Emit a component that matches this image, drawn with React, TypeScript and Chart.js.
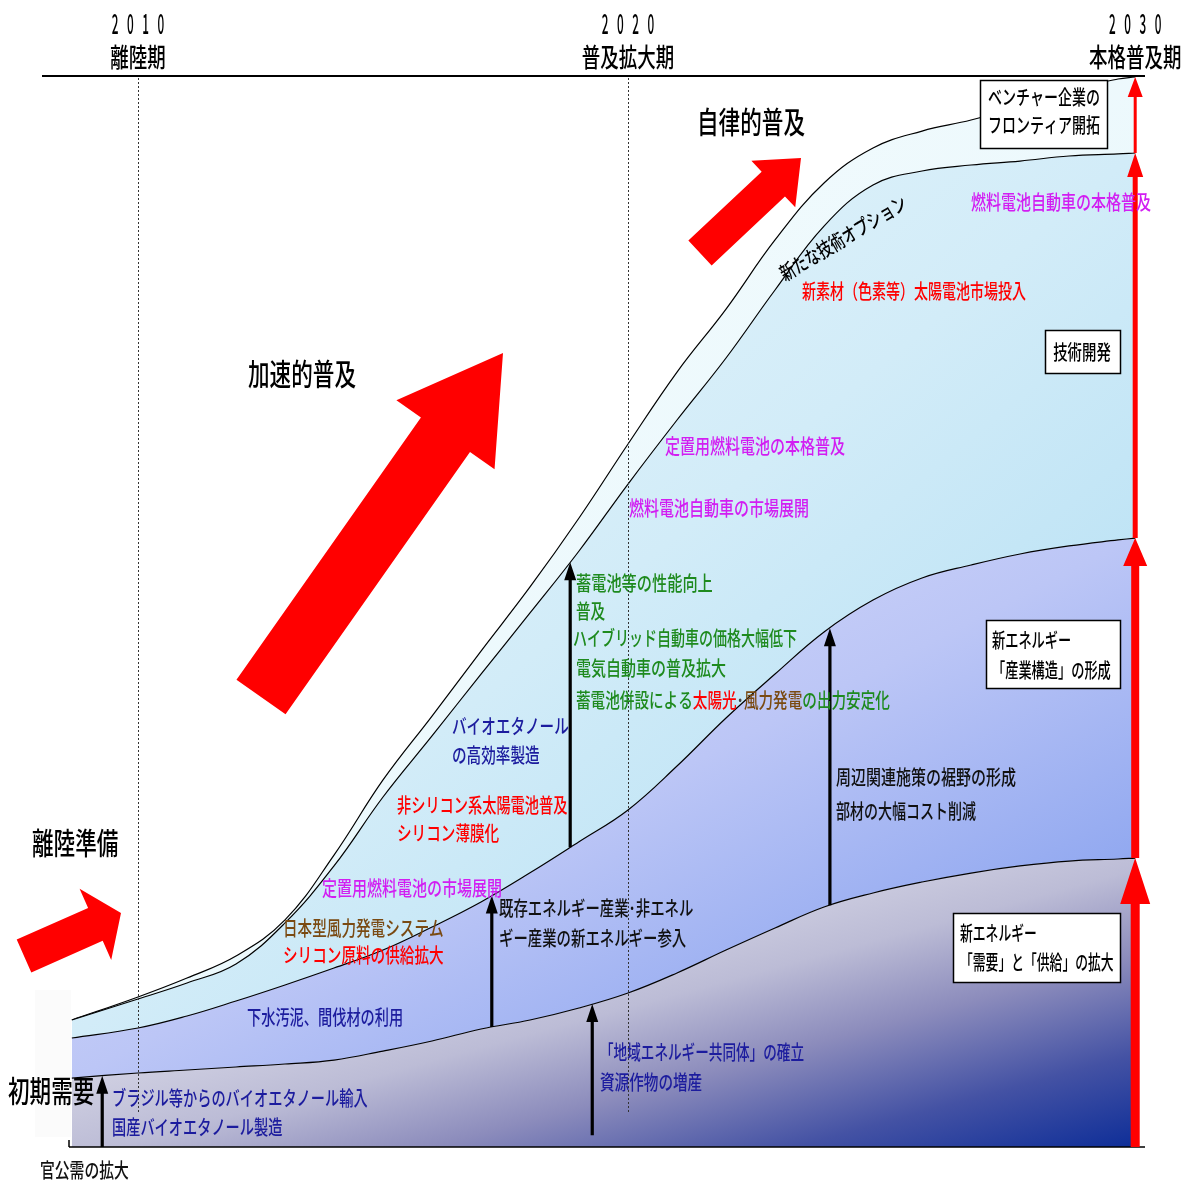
import React, { useEffect, useRef } from "react";
import { Chart, registerables } from "chart.js";

Chart.register(...registerables);

// ---------- DATA ----------
const years = [2008.65, 2010, 2011, 2012, 2013, 2014, 2015, 2016, 2017, 2018, 2019, 2020, 2021, 2022, 2023, 2024, 2025, 2026, 2027, 2028, 2029, 2030, 2030.35];

// 新エネルギー「需要」と「供給」の拡大 (bottom band top)
const demandSupply = [6.44, 6.91, 7.19, 7.47, 7.75, 8.12, 8.96, 9.9, 11.02, 11.86, 12.98, 14.38, 16.25, 18.39, 20.45, 22.41, 23.72, 24.74, 25.58, 26.24, 26.7, 26.89, 26.98];
// 新エネルギー「産業構造」の形成 (middle band top)
const industryStructure = [10.18, 11.11, 12.23, 13.63, 15.13, 16.71, 18.39, 20.54, 22.88, 25.6, 28.5, 31.47, 35.57, 40.06, 44.16, 48.09, 51.07, 53.13, 54.34, 55.37, 56.12, 56.68, 56.86];
// 技術開発 (light band top)
const techDevelopment = [11.86, 13.82, 15.31, 17.09, 20.92, 26.24, 32.68, 38.38, 44.16, 49.86, 55.65, 61.9, 67.88, 73.67, 80.02, 85.99, 89.82, 91.13, 91.69, 92.06, 92.53, 92.72, 92.81];
// ベンチャー企業のフロンティア開拓 / 新たな技術オプション (outer top)
const ventureFrontier = [11.86, 14.01, 15.78, 17.83, 21.2, 27.26, 34.27, 40.24, 46.31, 52.29, 58.73, 65.64, 72.36, 78.24, 84.69, 90.01, 93.28, 94.86, 95.89, 97.2, 98.69, 99.72, 99.91];

const tickYears = [2010, 2020, 2030];
const phaseLabels = ["離陸期", "普及拡大期", "本格普及期"];

// ---------- STYLE / LAYOUT ----------
const FONT = '"Noto Sans CJK JP", "Noto Sans CJK SC", sans-serif';
const NAVY = "#1c1c9e";
const RED = "#ff0000";
const GREEN = "#1e8a1e";
const BROWN = "#7a4a12";
const MAGENTA = "#d21ef2";
const BLACK = "#111111";

const notes: { t: string; x: number; y: number; c: string; sx?: number }[] = [
  { t: "ブラジル等からのバイオエタノール輸入", x: 112, y: 1098, c: NAVY, sx: 0.71 },
  { t: "国産バイオエタノール製造", x: 112, y: 1127, c: NAVY, sx: 0.71 },
  { t: "下水汚泥、間伐材の利用", x: 247, y: 1017, c: NAVY, sx: 0.71 },
  { t: "「地域エネルギー共同体」の確立", x: 600, y: 1052, c: NAVY, sx: 0.68 },
  { t: "資源作物の増産", x: 600, y: 1082, c: NAVY },
  { t: "バイオエタノール", x: 452, y: 726, c: NAVY },
  { t: "の高効率製造", x: 452, y: 755, c: NAVY },
  { t: "非シリコン系太陽電池普及", x: 397, y: 805, c: RED, sx: 0.71 },
  { t: "シリコン薄膜化", x: 397, y: 833, c: RED },
  { t: "定置用燃料電池の市場展開", x: 322, y: 888, c: MAGENTA, sx: 0.75 },
  { t: "日本型風力発電システム", x: 283, y: 928, c: BROWN, sx: 0.73 },
  { t: "シリコン原料の供給拡大", x: 283, y: 955, c: RED, sx: 0.73 },
  { t: "既存エネルギー産業･非エネル", x: 499, y: 908, c: BLACK, sx: 0.72 },
  { t: "ギー産業の新エネルギー参入", x: 499, y: 938, c: BLACK, sx: 0.72 },
  { t: "蓄電池等の性能向上", x: 576, y: 583, c: GREEN, sx: 0.76 },
  { t: "普及", x: 576, y: 611, c: GREEN },
  { t: "ハイブリッド自動車の価格大幅低下", x: 573, y: 638, c: GREEN, sx: 0.7 },
  { t: "電気自動車の普及拡大", x: 576, y: 668, c: GREEN, sx: 0.75 },
  { t: "周辺関連施策の裾野の形成", x: 836, y: 777, c: BLACK, sx: 0.75 },
  { t: "部材の大幅コスト削減", x: 836, y: 811, c: BLACK, sx: 0.7 },
  { t: "定置用燃料電池の本格普及", x: 665, y: 446, c: MAGENTA, sx: 0.75 },
  { t: "燃料電池自動車の市場展開", x: 629, y: 508, c: MAGENTA, sx: 0.75 },
  { t: "新素材（色素等）太陽電池市場投入", x: 802, y: 291, c: RED, sx: 0.7 },
  { t: "燃料電池自動車の本格普及", x: 971, y: 202, c: MAGENTA, sx: 0.75 },
  { t: "官公需の拡大", x: 40, y: 1170, c: BLACK, sx: 0.74 },
];

const mixedLine = [
  { t: "蓄電池併設による", c: GREEN },
  { t: "太陽光", c: RED },
  { t: "･", c: "#444" },
  { t: "風力発電", c: BROWN },
  { t: "の出力安定化", c: GREEN },
];

const bigLabels = [
  { t: "加速的普及", x: 248, y: 374 },
  { t: "自律的普及", x: 697, y: 122 },
  { t: "離陸準備", x: 32, y: 843 },
  { t: "初期需要", x: 8, y: 1091 },
];

const boxes = [
  { x: 980, y: 80, w: 127, h: 68, lines: ["ベンチャー企業の", "フロンティア開拓"], tx: 988, ty: [97, 125], center: false, sx: 0.7 },
  { x: 1045, y: 330, w: 75, h: 43, lines: ["技術開発"], tx: 1082, ty: [352], center: true, sx: 0.72 },
  { x: 986, y: 620, w: 134, h: 68, lines: ["新エネルギー", "「産業構造」の形成"], tx: 992, ty: [640, 670], center: false, sx: 0.66 },
  { x: 953, y: 913, w: 167, h: 69, lines: ["新エネルギー", "「需要」と「供給」の拡大"], tx: 960, ty: [933, 962], center: false, sx: 0.64 },
];

// black vertical arrows: year, from (curve or value), to curve
const blackArrows: { yr: number; from: number[] | number; to: number[] }[] = [
  { yr: 2009.27, from: 0, to: demandSupply },
  { yr: 2017.22, from: demandSupply, to: industryStructure },
  { yr: 2018.82, from: industryStructure, to: techDevelopment },
  { yr: 2019.27, from: 1.1, to: demandSupply },
  { yr: 2024.12, from: demandSupply, to: industryStructure },
];

// ---------- HELPERS ----------
function interp(arr: number[], yr: number) {
  for (let i = 0; i < years.length - 1; i++) {
    if (yr >= years[i] && yr <= years[i + 1]) {
      const f = (yr - years[i]) / (years[i + 1] - years[i]);
      return arr[i] + f * (arr[i + 1] - arr[i]);
    }
  }
  return arr[arr.length - 1];
}

function bandFill(upper: number[], lower: number[] | null, stops: [number, string][]) {
  return (c: any) => {
    const chart = c.chart;
    const { chartArea, scales } = chart;
    if (!chartArea || !scales || !scales.x || !scales.y) return stops[0][1];
    const xL = scales.x.getPixelForValue(years[0]);
    const xR = scales.x.getPixelForValue(years[years.length - 1]);
    const yT = scales.y.getPixelForValue(Math.max(...upper));
    const yB = scales.y.getPixelForValue(lower ? Math.min(...lower) : 0);
    const W = xR - xL;
    const H = yB - yT;
    const f = (2 * W * H) / (W * W + H * H);
    const g = chart.ctx.createLinearGradient(xL, yT, xL + H * f, yT + W * f);
    stops.forEach(([o, col]) => g.addColorStop(o, col));
    return g;
  };
}

function drawText(ctx: CanvasRenderingContext2D, s: string, x: number, y: number, size: number, color: string, sx = 0.72, center = false) {
  ctx.save();
  ctx.font = `500 ${size}px ${FONT}`;
  ctx.fillStyle = color;
  ctx.textBaseline = "middle";
  ctx.textAlign = "left";
  const w = ctx.measureText(s).width * sx;
  ctx.translate(center ? x - w / 2 : x, y);
  ctx.scale(sx, 1);
  ctx.fillText(s, 0, 0);
  ctx.restore();
  return w;
}

function blockArrow(ctx: CanvasRenderingContext2D, tx: number, ty: number, hx: number, hy: number, shaftW: number, headW: number, headL: number, color: string) {
  const dx = hx - tx, dy = hy - ty;
  const L = Math.hypot(dx, dy);
  const ux = dx / L, uy = dy / L;
  const px = -uy, py = ux;
  const bx = hx - ux * headL, by = hy - uy * headL;
  const pts = [
    [tx + (px * shaftW) / 2, ty + (py * shaftW) / 2],
    [bx + (px * shaftW) / 2, by + (py * shaftW) / 2],
    [bx + (px * headW) / 2, by + (py * headW) / 2],
    [hx, hy],
    [bx - (px * headW) / 2, by - (py * headW) / 2],
    [bx - (px * shaftW) / 2, by - (py * shaftW) / 2],
    [tx - (px * shaftW) / 2, ty - (py * shaftW) / 2],
  ];
  ctx.save();
  ctx.fillStyle = color;
  ctx.beginPath();
  pts.forEach(([a, b], i) => (i ? ctx.lineTo(a, b) : ctx.moveTo(a, b)));
  ctx.closePath();
  ctx.fill();
  ctx.restore();
}

const annotate = {
  id: "annotate",
  afterDatasetsDraw(chart: any) {
    const ctx: CanvasRenderingContext2D = chart.ctx;
    const xs = chart.scales.x;
    const ys = chart.scales.y;
    const ca = chart.chartArea;
    const lastX = xs.getPixelForValue(years[years.length - 1]);

    // frame lines
    ctx.save();
    ctx.strokeStyle = "#000";
    ctx.lineWidth = 2;
    ctx.beginPath();
    ctx.moveTo(ca.left, ca.top);
    ctx.lineTo(ca.right, ca.top);
    ctx.stroke();
    ctx.lineWidth = 1.5;
    ctx.beginPath();
    ctx.moveTo(69, ca.bottom);
    ctx.lineTo(ca.right, ca.bottom);
    ctx.moveTo(69, ca.bottom - 7);
    ctx.lineTo(69, ca.bottom);
    ctx.stroke();
    ctx.restore();

    // dotted year lines
    ctx.save();
    ctx.strokeStyle = "#333";
    ctx.lineWidth = 1;
    ctx.setLineDash([2, 2]);
    tickYears.slice(0, 2).forEach((yr) => {
      const x = Math.round(xs.getPixelForValue(yr)) + 0.5;
      ctx.beginPath();
      ctx.moveTo(x, ca.top + 2);
      ctx.lineTo(x, 1113);
      ctx.stroke();
    });
    ctx.restore();

    // year + phase labels
    tickYears.forEach((yr, i) => {
      const x = i === tickYears.length - 1 ? lastX : xs.getPixelForValue(yr);
      const digits = String(yr).split("");
      digits.forEach((d, k) => {
        drawText(ctx, d, x + (k - 1.5) * 15.3, 23, 28, "#000", 0.42, true);
      });
      drawText(ctx, phaseLabels[i], x, 57, 26, "#000", 0.71, true);
    });

    // faint pad behind 初期需要
    ctx.save();
    ctx.fillStyle = "#fbfbfb";
    ctx.fillRect(35, 990, 36, 147);
    ctx.restore();

    // black arrows
    blackArrows.forEach((a) => {
      const x = xs.getPixelForValue(a.yr);
      const y0 = ys.getPixelForValue(typeof a.from === "number" ? a.from : interp(a.from, a.yr));
      const y1 = ys.getPixelForValue(interp(a.to, a.yr));
      blockArrow(ctx, x, y0, x, y1, 3.2, 12, 18, "#000");
    });

    // red right-hand arrows
    const yBase = ys.getPixelForValue(0);
    const e4 = ys.getPixelForValue(demandSupply[demandSupply.length - 1]);
    const e3 = ys.getPixelForValue(industryStructure[industryStructure.length - 1]);
    const e2 = ys.getPixelForValue(techDevelopment[techDevelopment.length - 1]);
    const e1 = ys.getPixelForValue(ventureFrontier[ventureFrontier.length - 1]);
    blockArrow(ctx, lastX, yBase, lastX, e4, 9, 30, 46, RED);
    blockArrow(ctx, lastX, e4, lastX, e3, 8, 24, 28, RED);
    blockArrow(ctx, lastX, e3, lastX, e2, 5, 16, 24, RED);
    blockArrow(ctx, lastX, e2, lastX, e1, 3, 15, 20, RED);

    // big red trend arrows
    blockArrow(ctx, 24, 956, 121, 913, 36, 78, 28, RED);
    blockArrow(ctx, 261, 697, 503, 353, 60, 120, 100, RED);
    blockArrow(ctx, 700, 253, 801, 158, 34, 64, 38, RED);

    // boxes
    boxes.forEach((b) => {
      ctx.save();
      ctx.fillStyle = "#fff";
      ctx.strokeStyle = "#000";
      ctx.lineWidth = 1.5;
      ctx.fillRect(b.x, b.y, b.w, b.h);
      ctx.strokeRect(b.x + 0.5, b.y + 0.5, b.w, b.h);
      ctx.restore();
      b.lines.forEach((l, i) => drawText(ctx, l, b.tx, b.ty[i], 20, "#000", b.sx, b.center));
    });

    // annotation texts
    notes.forEach((n) => drawText(ctx, n.t, n.x, n.y, 20, n.c, n.sx ?? 0.73));
    let mx = 576;
    mixedLine.forEach((s) => {
      mx += drawText(ctx, s.t, mx, 700, 20, s.c, 0.73);
    });
    bigLabels.forEach((b) => drawText(ctx, b.t, b.x, b.y, 30, "#000", 0.72));

    // rotated label on outer curve
    ctx.save();
    ctx.font = `500 20px ${FONT}`;
    ctx.fillStyle = "#000";
    ctx.textBaseline = "middle";
    ctx.textAlign = "center";
    ctx.translate(843, 238);
    ctx.rotate((-31 * Math.PI) / 180);
    ctx.scale(0.72, 1);
    ctx.fillText("新たな技術オプション", 0, 0);
    ctx.restore();
  },
};

export default function App() {
  const ref = useRef<HTMLCanvasElement | null>(null);
  useEffect(() => {
    if (!ref.current) return;
    const pts = (arr: number[]) => arr.map((v, i) => ({ x: years[i], y: v }));
    const lineBase = {
      borderColor: "#000",
      borderWidth: 1.2,
      pointRadius: 0,
      tension: 0.4,
    };
    const chart = new Chart(ref.current, {
      type: "line",
      data: {
        datasets: [
          {
            ...lineBase,
            label: "需要と供給",
            data: pts(demandSupply),
            fill: "origin",
            backgroundColor: bandFill(demandSupply, null, [
              [0, "#e6e6f0"],
              [0.38, "#d0d0e2"],
              [0.52, "#bcbcd6"],
              [0.67, "#8c8cbc"],
              [0.84, "#4452a4"],
              [1, "#0e2e98"],
            ]),
          },
          {
            ...lineBase,
            label: "産業構造",
            data: pts(industryStructure),
            fill: "-1",
            backgroundColor: bandFill(industryStructure, demandSupply, [
              [0, "#e4e4fc"],
              [0.5, "#bcc6f6"],
              [1, "#7494ec"],
            ]),
          },
          {
            ...lineBase,
            label: "技術開発",
            data: pts(techDevelopment),
            fill: "-1",
            backgroundColor: bandFill(techDevelopment, industryStructure, [
              [0, "#eef9fd"],
              [0.5, "#d2ecf8"],
              [1, "#a8daf2"],
            ]),
          },
          {
            ...lineBase,
            label: "フロンティア開拓",
            data: pts(ventureFrontier),
            fill: "-1",
            backgroundColor: bandFill(ventureFrontier, techDevelopment, [
              [0, "#f8fdfe"],
              [1, "#e2f5fb"],
            ]),
          },
        ],
      },
      options: {
        responsive: false,
        maintainAspectRatio: false,
        devicePixelRatio: 1,
        animation: false,
        layout: { padding: { left: 42, right: 45, top: 76, bottom: 38 } },
        scales: {
          x: { type: "linear", min: 2008.041, max: 2030.55, display: false },
          y: { min: 0, max: 100, display: false },
        },
        plugins: {
          legend: { display: false },
          tooltip: { enabled: false },
        },
      },
      plugins: [annotate],
    });
    return () => chart.destroy();
  }, []);
  return (
    <div style={{ position: "absolute", left: 0, top: 0, width: 1190, height: 1185, background: "#fff" }}>
      <canvas ref={ref} width={1190} height={1185} style={{ width: 1190, height: 1185, display: "block" }} />
    </div>
  );
}
